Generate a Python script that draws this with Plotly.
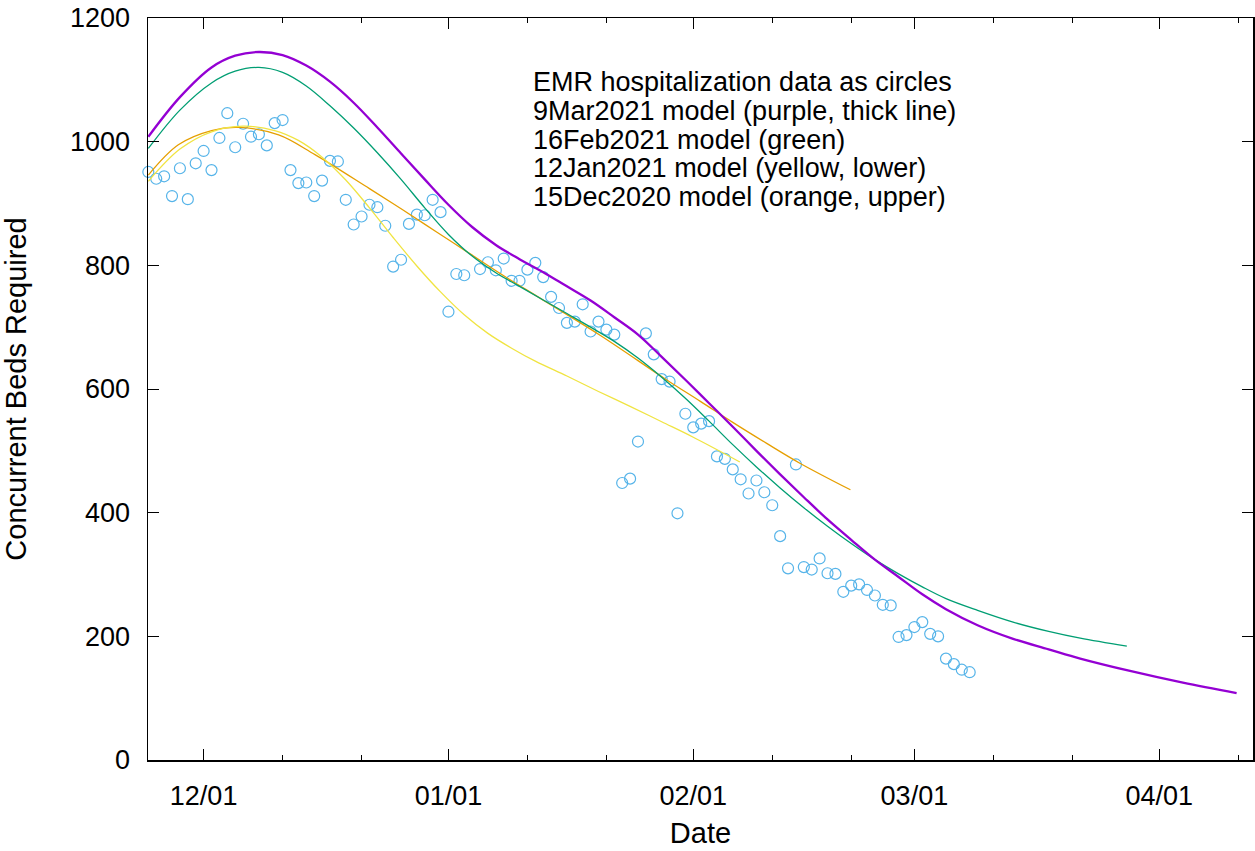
import pandas as pd
import plotly.graph_objects as go

# ---------------- data ----------------
start_date = "2020-11-24"
# EMR hospitalization data (daily, None = missing day)
hosp = [951, 940, 944, 912, 957, 907, 965, 985, 954, 1006,
        1046, 991, 1029, 1008, 1012, 994, 1030, 1035, 954, 933,
        934, 912, 937, 969, 968, 906, 866, 879, 898, 894,
        864, 798, 809, 867, 882, 881, 906, 886, 725, 786,
        784, None, 794, 805, 792, 811, 775, 775, 793, 804,
        781, 749, 731, 707, 709, 737, 693, 709, 696, 688,
        448, 455, 515, 690, 656, 616, 612, 399, 560, 538,
        544, 548, 491, 487, 470, 454, 431, 452, 433, 412,
        362, 310, 478, 312, 308, 326, 302, 301, 272, 282,
        284, 275, 266, 251, 250, 199, 202, 215, 223, 204,
        200, 164, 155, 146, 142]

# model curves: day offsets from start_date and values
mar9_days = [0, 4, 8, 11, 14, 17, 20, 23, 26, 29, 32, 35, 38, 41, 44, 47, 50, 53,
             56, 59, 62, 65, 68, 71, 74, 77, 80, 83, 86, 89, 92, 95, 98, 101, 105,
             109.5, 114, 118, 124.3, 131, 137.8]
mar9_vals = [1008, 1072, 1120, 1139, 1145, 1140, 1123, 1097, 1063, 1023, 981, 939,
             898, 862, 833, 810, 789, 766, 743, 716, 688, 652, 615, 577, 539, 500,
             462, 425, 389, 356, 324, 296, 268, 244, 218, 196, 179, 164, 144, 125, 108]

feb16_days = [0, 4, 8, 11, 14, 17, 20, 23, 26, 29, 32, 35, 38, 41, 44, 47, 50, 53,
              56, 59, 62, 65, 68, 71, 74, 77, 80, 83, 86, 89, 92, 95, 98, 101, 105,
              109.5, 114, 118, 123.9]
feb16_vals = [989, 1051, 1095, 1114, 1120, 1112, 1090, 1058, 1022, 982, 939, 893,
              850, 815, 788, 766, 744, 722, 700, 677, 650, 619, 585, 548, 510, 474,
              440, 408, 378, 350, 324, 301, 280, 261, 242, 223, 208, 197, 184]

jan12_days = [0, 4, 8, 12, 16, 19, 22, 25, 28, 31, 34, 37, 40, 43, 46, 49, 53, 57,
              61, 65, 69, 74.9]
jan12_vals = [936, 988, 1016, 1025, 1018, 1002, 975, 938, 893, 845, 799, 757, 720,
              690, 666, 645, 621, 596, 572, 547, 522, 482]

dec15_days = [0, 3.8, 8, 11.4, 16.5, 21.1, 28, 32.3, 36.5, 40.7, 44.9, 49.6, 57.2,
              65.6, 69.9, 74, 78.3, 82.5, 88.9]
dec15_vals = [946, 995, 1018, 1023, 1011, 979, 924, 889, 854, 819, 784, 747, 687,
              615, 580, 546, 512, 480, 437]

legend_lines = ["EMR hospitalization data as circles",
                "9Mar2021 model (purple, thick line)",
                "16Feb2021 model (green)",
                "12Jan2021 model (yellow, lower)",
                "15Dec2020 model (orange, upper)"]

major_ticks = ["2020-12-01", "2021-01-01", "2021-02-01", "2021-03-01", "2021-04-01"]
minor_ticks = ["2020-12-11", "2020-12-21", "2021-01-11", "2021-01-21", "2021-02-11",
               "2021-02-21", "2021-03-11", "2021-03-21", "2021-04-11"]
y_ticks = [0, 200, 400, 600, 800, 1000, 1200]

# ---------------- figure ----------------
base = pd.Timestamp(start_date)
hosp_dates = pd.date_range(start_date, periods=len(hosp), freq="D")


def to_dates(days):
    return [base + pd.to_timedelta(d, unit="D") for d in days]


FONT = "Liberation Sans, Arial, Helvetica, sans-serif"

fig = go.Figure()
fig.add_trace(go.Scatter(
    x=hosp_dates, y=hosp, mode="markers", cliponaxis=False,
    marker=dict(symbol="circle-open", size=11, color="#56b4e9",
                line=dict(width=1.2, color="#56b4e9")),
    showlegend=False))
fig.add_trace(go.Scatter(x=to_dates(dec15_days), y=dec15_vals, mode="lines",
                         line=dict(color="#e69f00", width=1.3, shape="spline"),
                         showlegend=False))
fig.add_trace(go.Scatter(x=to_dates(jan12_days), y=jan12_vals, mode="lines",
                         line=dict(color="#f0e442", width=1.3, shape="spline"),
                         showlegend=False))
fig.add_trace(go.Scatter(x=to_dates(feb16_days), y=feb16_vals, mode="lines",
                         line=dict(color="#009e73", width=1.3, shape="spline"),
                         showlegend=False))
fig.add_trace(go.Scatter(x=to_dates(mar9_days), y=mar9_vals, mode="lines",
                         line=dict(color="#9400d3", width=2.3, shape="spline"),
                         showlegend=False))

W, H = 1255, 851
# plot area in page pixels
PL, PR, PT, PB = 148, 1253, 18, 760
plot_w = PR - PL
plot_h = PB - PT

for i, txt in enumerate(legend_lines):
    ypx = 82.5 + 28.5 * i
    fig.add_annotation(
        text=txt, xref="paper", yref="paper",
        x=(531 - PL) / plot_w, y=(PB - ypx) / plot_h,
        xanchor="left", yanchor="middle", showarrow=False,
        font=dict(family=FONT, size=27, color="black"))

fig.update_layout(
    width=W, height=H,
    margin=dict(l=PL, r=W - PR, t=PT, b=H - PB, pad=0, autoexpand=False),
    paper_bgcolor="white", plot_bgcolor="white",
    font=dict(family=FONT, size=27, color="black"),
    showlegend=False, hovermode=False,
)
fig.update_xaxes(
    type="date", automargin=False,
    range=["2020-11-23T23:00", "2021-04-12T21:00"],
    tickmode="array", tickvals=major_ticks, tickformat="%m/%d",
    ticks="inside", ticklen=11, tickwidth=1, tickcolor="black",
    minor=dict(tickmode="array", tickvals=minor_ticks, ticks="inside",
               ticklen=5, tickwidth=1, tickcolor="black", showgrid=False),
    showline=True, linecolor="black", linewidth=1.5, mirror="ticks",
    showgrid=False, zeroline=False,
    tickfont=dict(family=FONT, size=27, color="black"),
    ticklabelstandoff=11, ticklabeloverflow="allow",
    title=dict(text="Date", font=dict(family=FONT, size=29, color="black"),
               standoff=13),
)
fig.update_yaxes(
    range=[0, 1200], tickmode="array", tickvals=y_ticks, automargin=False,
    ticks="inside", ticklen=11, tickwidth=1, tickcolor="black",
    showline=True, linecolor="black", linewidth=1.5, mirror="ticks",
    showgrid=False, zeroline=False,
    tickfont=dict(family=FONT, size=27, color="black"),
    ticklabelstandoff=11, ticklabeloverflow="allow",
    title=dict(text="Concurrent Beds Required",
               font=dict(family=FONT, size=29, color="black"), standoff=44),
)

# remove the browser's default 8px page margin so the figure sits at (0, 0)
fig.write_html("out.html",
               config={"displayModeBar": False, "staticPlot": True},
               post_script="document.body.style.margin='0';"
                           "document.body.style.overflow='hidden';")
